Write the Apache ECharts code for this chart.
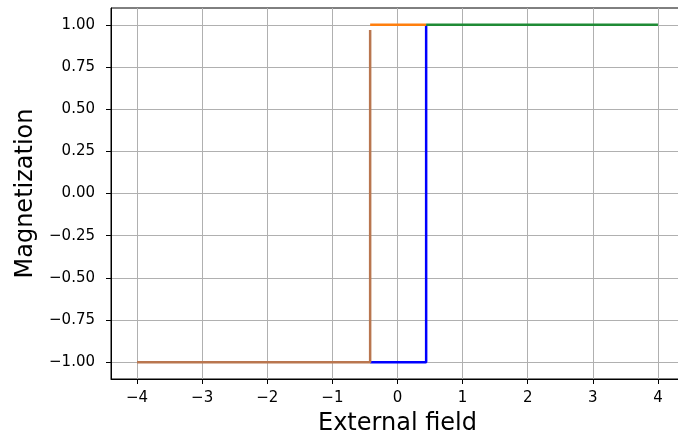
<!DOCTYPE html>
<html>
<head>
<meta charset="utf-8">
<script src="https://cdn.jsdelivr.net/npm/echarts@6/dist/echarts.min.js"></script>
<style>
  html, body { margin: 0; padding: 0; background: #fff; }
  #chart { width: 678px; height: 441px; }
</style>
</head>
<body>
<div id="chart"></div>
<script>
// field sweep, visible pieces of each curve
const blueX = [-0.42, 0.44, 0.44];
const blueY = [-1, -1, 1];
const orangeX = [-0.42, 0.44];
const orangeY = [1, 1];
const greenX = [0.44, 4];
const greenY = [1, 1];
const brownX = [-4, -0.42, -0.42];
const brownY = [-1, -1, 0.97];

const xTicks = [-4, -3, -2, -1, 0, 1, 2, 3, 4];
const yTicks = [-1, -0.75, -0.5, -0.25, 0, 0.25, 0.5, 0.75, 1];

const minus = (s) => s.replace("-", "\u2212");
const zip = (xs, ys) => xs.map((x, i) => [x, ys[i]]);

const font = "DejaVu Sans";

function lineSeries(xs, ys, color) {
  return {
    type: "line",
    data: zip(xs, ys),
    showSymbol: false,
    symbol: "none",
    lineStyle: { color: color, width: 2.5 },
    itemStyle: { color: color },
  };
}

const chart = echarts.init(document.getElementById("chart"));
chart.setOption({
  animation: false,
  backgroundColor: "#fff",
  grid: {
    left: 111,
    right: -6,
    top: 8,
    bottom: 62,
    outerBoundsMode: "none",
    containLabel: false,
    show: true,
    borderColor: "#000",
    borderWidth: 1,
  },
  xAxis: {
    type: "value",
    min: -4.4,
    max: 4.4,
    name: "External field",
    nameLocation: "middle",
    nameGap: 33,
    nameTextStyle: { fontFamily: font, fontSize: 24, color: "#000" },
    axisLine: { show: true, onZero: false, lineStyle: { color: "#000", width: 1 } },
    axisTick: { show: true, length: 5, lineStyle: { color: "#000" }, customValues: xTicks },
    axisLabel: {
      customValues: xTicks,
      margin: 12,
      fontFamily: font,
      fontSize: 15,
      color: "#000",
      formatter: (v) => minus(String(v)),
    },
    splitLine: { show: true, lineStyle: { color: "#b0b0b0", width: 1 } },
  },
  yAxis: {
    type: "value",
    min: -1.1,
    max: 1.1,
    name: "Magnetization",
    nameLocation: "middle",
    nameGap: 70,
    nameTextStyle: { fontFamily: font, fontSize: 24, color: "#000" },
    axisLine: { show: true, onZero: false, lineStyle: { color: "#000", width: 1 } },
    axisTick: { show: true, length: 5, lineStyle: { color: "#000" }, customValues: yTicks },
    axisLabel: {
      customValues: yTicks,
      margin: 16,
      fontFamily: font,
      fontSize: 15,
      color: "#000",
      formatter: (v) => minus(v.toFixed(2)),
    },
    splitLine: { show: true, lineStyle: { color: "#b0b0b0", width: 1 } },
  },
  series: [
    lineSeries(blueX, blueY, "#0000ff"),
    lineSeries(orangeX, orangeY, "#ff7f0e"),
    lineSeries(greenX, greenY, "#1f8b35"),
    lineSeries(brownX, brownY, "#b9764f"),
  ],
});
</script>
</body>
</html>
